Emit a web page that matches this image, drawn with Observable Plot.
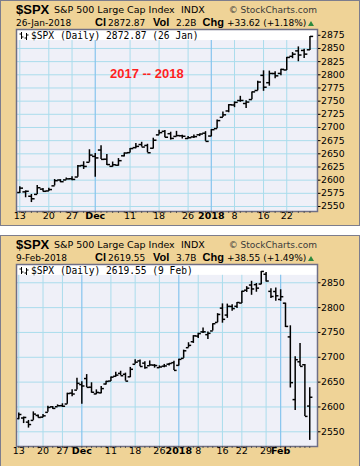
<!DOCTYPE html>
<html><head><meta charset="utf-8">
<script src="https://cdn.jsdelivr.net/npm/d3@7"></script>
<script src="https://cdn.jsdelivr.net/npm/@observablehq/plot@0.6"></script>
<style>
body{margin:0;background:#fff;}
#wrap{position:relative;width:363px;height:466px;overflow:hidden;background:#fff;font-family:Arial,"Liberation Sans",sans-serif;}
.panel{position:absolute;left:0;width:360px;background:#efd397;box-shadow:inset 0 0 0 1px #7d7d8d;}
.panel svg{position:absolute;left:0;top:0;}
.t{position:absolute;white-space:nowrap;line-height:1;color:#000;}
</style></head><body><div id="wrap"></div>
<script>
// ---- data: S&P 500 daily OHLC, trading days ----
const dates = [
 "2017-11-13","2017-11-14","2017-11-15","2017-11-16","2017-11-17",
 "2017-11-20","2017-11-21","2017-11-22","2017-11-24",
 "2017-11-27","2017-11-28","2017-11-29","2017-11-30","2017-12-01",
 "2017-12-04","2017-12-05","2017-12-06","2017-12-07","2017-12-08",
 "2017-12-11","2017-12-12","2017-12-13","2017-12-14","2017-12-15",
 "2017-12-18","2017-12-19","2017-12-20","2017-12-21","2017-12-22",
 "2017-12-26","2017-12-27","2017-12-28","2017-12-29",
 "2018-01-02","2018-01-03","2018-01-04","2018-01-05",
 "2018-01-08","2018-01-09","2018-01-10","2018-01-11","2018-01-12",
 "2018-01-16","2018-01-17","2018-01-18","2018-01-19",
 "2018-01-22","2018-01-23","2018-01-24","2018-01-25","2018-01-26",
 "2018-01-29","2018-01-30","2018-01-31","2018-02-01","2018-02-02",
 "2018-02-05","2018-02-06","2018-02-07","2018-02-08","2018-02-09"];
const open = [
 2576.53,2577.75,2569.45,2572.95,2582.94,
 2579.49,2589.17,2600.31,2600.42,
 2602.66,2605.94,2627.82,2633.93,2645.10,
 2657.19,2639.78,2626.24,2628.38,2646.21,
 2652.19,2661.73,2667.59,2665.87,2660.63,
 2685.92,2692.71,2688.18,2683.02,2684.22,
 2679.09,2682.10,2686.10,2689.15,
 2683.73,2697.85,2719.31,2731.33,
 2742.67,2751.15,2745.55,2752.97,2770.18,
 2798.96,2784.99,2802.40,2802.60,
 2809.16,2835.05,2845.42,2846.24,2847.48,
 2867.23,2832.74,2832.41,2816.45,2808.92,
 2741.06,2614.78,2690.95,2685.01,2601.78];
const high = [
 2587.66,2579.66,2572.84,2590.09,2583.96,
 2584.64,2601.19,2600.94,2604.21,
 2606.41,2627.69,2634.89,2657.74,2650.62,
 2665.19,2648.72,2634.41,2640.99,2651.65,
 2660.33,2669.72,2671.88,2668.09,2679.63,
 2694.97,2694.44,2691.01,2692.64,2685.35,
 2682.74,2685.64,2687.66,2692.12,
 2695.89,2714.37,2729.29,2743.45,
 2748.51,2759.14,2750.80,2767.56,2787.85,
 2807.54,2807.04,2805.83,2810.33,
 2833.03,2842.24,2852.97,2848.56,2872.87,
 2870.62,2837.75,2839.26,2835.96,2808.92,
 2763.39,2701.04,2727.67,2685.27,2638.67];
const low = [
 2574.48,2566.56,2557.45,2572.95,2577.62,
 2578.24,2589.17,2595.23,2600.42,
 2598.87,2605.44,2620.32,2633.93,2605.52,
 2639.03,2627.73,2624.75,2626.53,2644.10,
 2651.47,2659.78,2662.85,2652.01,2659.14,
 2685.92,2680.74,2676.11,2682.40,2678.13,
 2677.96,2678.91,2682.69,2673.61,
 2682.36,2697.77,2719.07,2727.92,
 2737.60,2747.86,2736.06,2752.78,2769.64,
 2768.64,2778.38,2792.56,2798.08,
 2808.12,2830.59,2824.81,2830.94,2846.18,
 2851.48,2818.27,2813.04,2812.70,2759.97,
 2638.17,2593.07,2681.33,2580.56,2532.69];
const close = [
 2584.84,2578.87,2564.62,2585.64,2578.85,
 2582.14,2599.03,2597.08,2602.42,
 2601.42,2627.04,2626.07,2647.58,2642.22,
 2639.44,2629.57,2629.27,2636.98,2651.50,
 2659.99,2664.11,2662.85,2652.01,2675.81,
 2690.16,2681.47,2679.25,2684.57,2683.34,
 2680.50,2682.62,2687.54,2673.61,
 2695.81,2713.06,2723.99,2743.15,
 2747.71,2751.29,2748.23,2767.56,2786.24,
 2776.42,2802.56,2798.03,2810.30,
 2832.97,2839.13,2837.54,2839.25,2872.87,
 2853.53,2822.43,2823.81,2821.98,2762.13,
 2648.94,2695.14,2681.66,2581.00,2619.55];

// x tick labels (index into dates)
const tickIdx   = [0,5,9,13,19,24,29,33,37,42,46,51,54];
const tickLabel = ["13","20","27","Dec","11","18","26","2018","8","16","22","29","Feb"];
const tickBold  = [false,false,false,true,false,false,false,true,false,false,false,false,true];

// panel header texts
const panels = [
  {n:51, date:"26-Jan-2018", cl:"2872.87", vol:"2.2B", chg:"+33.62 (+1.18%)", legend:"$SPX (Daily) 2872.87 (26 Jan)",
   yTicks:[2550,2575,2600,2625,2650,2675,2700,2725,2750,2775,2800,2825,2850,2875],
   xDomain:[-0.57,51.3], yDomain:[2540.5,2886], note:"2017 -- 2018", top:0, h:226},
  {n:61, date:"9-Feb-2018", cl:"2619.55", vol:"3.7B", chg:"+38.55 (+1.49%)", legend:"$SPX (Daily) 2619.55 (9 Feb)",
   yTicks:[2550,2600,2650,2700,2750,2800,2850],
   xDomain:[-0.47,61.6], yDomain:[2520.4,2886.8], note:null, top:235, h:240}
];
const bandLow = 2865;

const AX = "'DejaVu Sans', Verdana, sans-serif";
const wrap = document.getElementById("wrap");

function T(parent, text, x, base, size, o = {}) {
  const el = document.createElement("div");
  el.className = "t"; el.textContent = text;
  el.style.fontSize = size + "px";
  el.style.top = (base - 0.85 * size) + "px";
  if (o.right) el.style.right = (360 - x) + "px"; else el.style.left = x + "px";
  if (o.bold) el.style.fontWeight = "bold";
  if (o.color) el.style.color = o.color;
  if (o.family) el.style.fontFamily = o.family;
  parent.appendChild(el);
  return el;
}

for (const cfg of panels) {
  const p = document.createElement("div");
  p.className = "panel";
  p.style.top = cfg.top + "px";
  p.style.height = cfg.h + "px";
  wrap.appendChild(p);

  const data = d3.range(cfg.n).map(i => ({i, date: dates[i], open: open[i], high: high[i], low: low[i], close: close[i]}));
  const ticks = tickIdx.map((i, k) => ({i, label: tickLabel[k], bold: tickBold[k]})).filter(d => d.i < cfg.n);
  const gridY = cfg.yTicks.filter(v => v < bandLow);

  const svg = Plot.plot({
    width: 360, height: 226,
    marginLeft: 16, marginRight: 43, marginTop: 29, marginBottom: 15,
    style: {background: "transparent", overflow: "visible", fontFamily: AX, color: "#000"},
    x: {type: "linear", domain: cfg.xDomain},
    y: {domain: cfg.yDomain},
    marks: [
      Plot.frame({fill: "#eff0f8", stroke: "none"}),
      Plot.rect([0], {x1: cfg.xDomain[0], x2: cfg.xDomain[1], y1: bandLow, y2: cfg.yDomain[1], fill: "#ffffff"}),
      Plot.ruleY(gridY, {stroke: "#aadcec", strokeWidth: 1}),
      Plot.ruleX(ticks.filter(d => !d.bold), {x: "i", y1: cfg.yDomain[0], y2: bandLow, stroke: "#aadcec", strokeWidth: 1}),
      Plot.ruleX(ticks.filter(d => d.bold), {x: "i", y1: cfg.yDomain[0], y2: bandLow, stroke: "#86c4ee", strokeWidth: 1.2}),
      Plot.ruleX(data, {x: "i", y1: "low", y2: "high", stroke: "#000", strokeWidth: 1.5}),
      Plot.link(data, {x1: d => d.i - 0.55, x2: "i", y1: "open", y2: "open", stroke: "#000", strokeWidth: 1.5}),
      Plot.link(data, {x1: "i", x2: d => d.i + 0.55, y1: "close", y2: "close", stroke: "#000", strokeWidth: 1.5}),
      Plot.frame({stroke: "#6f6f86", strokeWidth: 1.5}),
      Plot.axisY(cfg.yTicks, {anchor: "right", tickSize: 2.5, tickPadding: 1, tickFormat: d => String(d),
        fontSize: 9.3, color: "#000", label: null}),
      Plot.axisX(d3.range(cfg.n), {anchor: "bottom", tickSize: 2, tickFormat: () => "", stroke: "#555", label: null}),
      Plot.text(ticks.filter(d => !d.bold), {x: "i", text: "label", frameAnchor: "bottom", dy: 7.5, fontSize: 9.5, fill: "#000"}),
      Plot.text(ticks.filter(d => d.bold), {x: "i", text: "label", frameAnchor: "bottom", dy: 7.5, fontSize: 9.5, fontWeight: "bold", fill: "#000"})
    ]
  });
  p.appendChild(svg);

  // header line 1
  T(p, "$SPX", 16, 14, 13, {bold: true});
  T(p, "S&P 500 Large Cap Index", 54, 13.5, 9.5, {family: AX});
  T(p, "INDX", 181, 13.5, 9.5, {family: AX});
  T(p, "© StockCharts.com", 317, 14, 9, {family: AX, right: true, color: "#3a3a3a"});
  // header line 2
  T(p, cfg.date, 16, 26.5, 9, {family: AX});
  T(p, "Cl", 95, 26.7, 11, {bold: true});
  T(p, cfg.cl, 108, 26.5, 9, {family: AX});
  T(p, "Vol", 153, 26.7, 11, {bold: true});
  T(p, cfg.vol, 176, 26.5, 9, {family: AX});
  T(p, "Chg", 202.5, 26.7, 11, {bold: true});
  T(p, cfg.chg, 227, 26.5, 9, {family: AX});
  const tri = document.createElement("div");
  tri.style.cssText = "position:absolute;left:308px;top:21px;width:0;height:0;border-left:3.5px solid transparent;border-right:3.5px solid transparent;border-bottom:5px solid #2d8a3e;";
  p.appendChild(tri);
  // legend row inside plot
  const ic = document.createElementNS("http://www.w3.org/2000/svg", "svg");
  ic.setAttribute("width", 10); ic.setAttribute("height", 10);
  ic.style.cssText = "position:absolute;left:19px;top:30.5px;";
  ic.innerHTML = '<g stroke="#000" stroke-width="1" fill="none"><path d="M2.5 1v7M0.5 3h2M2.5 6h2"/><path d="M7.5 2v7M5.5 7h2M7.5 4h2"/></g>';
  p.appendChild(ic);
  T(p, cfg.legend, 31, 38.7, 9.6, {family: "'DejaVu Sans Mono', monospace"});
  if (cfg.note) T(p, cfg.note, 110, 78.3, 13, {bold: true, color: "#ff1f1f"});
}
</script></body></html>
